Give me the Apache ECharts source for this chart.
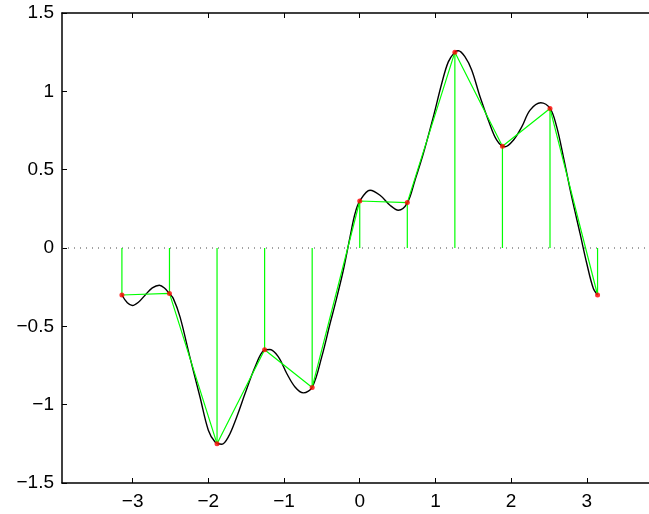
<!DOCTYPE html>
<html>
<head>
<meta charset="utf-8">
<script src="https://cdn.jsdelivr.net/npm/echarts@6/dist/echarts.min.js"></script>
<style>html,body{margin:0;padding:0;background:#fff;}#c{width:649px;height:514px;}</style>
</head>
<body>
<div id="c"></div>
<script>
// Sample points (stems)
const stemX = [-3.1416, -2.5133, -1.8850, -1.2566, -0.6283, 0, 0.6283, 1.2566, 1.8850, 2.5133, 3.1416];
const stemY = [-0.30, -0.29, -1.25, -0.65, -0.89, 0.30, 0.29, 1.25, 0.65, 0.89, -0.30];

// Smooth black curve
const curveX = [-3.1416, -3.07, -3.004, -2.92, -2.836, -2.74, -2.647, -2.58, -2.515, -2.462, -2.374, -2.242,
  -2.11, -2.0, -1.911, -1.823, -1.736, -1.625, -1.515, -1.383, -1.264, -1.185, -1.075, -0.964, -0.855,
  -0.745, -0.626, -0.502, -0.392, -0.326, -0.217, -0.128, -0.062, 0, 0.136, 0.268, 0.4, 0.51, 0.629,
  0.73, 0.84, 0.972, 1.083, 1.17, 1.259, 1.303, 1.391, 1.48, 1.589, 1.699, 1.81, 1.919, 2.029, 2.14,
  2.25, 2.391, 2.514, 2.602, 2.69, 2.8, 2.91, 2.999, 3.086, 3.1416];
const curveY = [-0.30, -0.35, -0.367, -0.345, -0.301, -0.255, -0.238, -0.255, -0.291, -0.323, -0.44, -0.70,
  -0.951, -1.163, -1.238, -1.253, -1.206, -1.078, -0.929, -0.759, -0.653, -0.648, -0.695, -0.801, -0.887,
  -0.925, -0.887, -0.695, -0.482, -0.36, -0.142, 0.071, 0.22, 0.299, 0.369, 0.337, 0.273, 0.241, 0.288,
  0.433, 0.603, 0.837, 1.05, 1.188, 1.252, 1.259, 1.22, 1.135, 0.965, 0.816, 0.688, 0.646, 0.688, 0.773,
  0.88, 0.927, 0.891, 0.773, 0.582, 0.326, 0.093, -0.099, -0.259, -0.30];

const xTicks = [-3, -2, -1, 0, 1, 2, 3];
const xLimit = [-3.933, 3.821];
const yLimit = [-1.5, 1.5];

const font = 'Liberation Sans, Arial, Helvetica, sans-serif';
const fmt = v => String(v).replace('-', '\u2212');

const chart = echarts.init(document.getElementById('c'), null, {renderer: 'canvas'});

const axisCommon = {
  axisLine: {show: true, onZero: false, lineStyle: {color: '#000', width: 1.5}},
  axisTick: {show: true, inside: true, length: 5, lineStyle: {color: '#000', width: 1}},
  splitLine: {show: false}
};

const series = [];
// baseline
series.push({
  type: 'line', symbol: 'none', silent: true,
  data: [[xLimit[0], 0], [xLimit[1], 0]],
  lineStyle: {color: '#444', width: 1, type: [1, 5]}, z: 1
});
// black curve
series.push({
  type: 'line', symbol: 'none', smooth: 0.35,
  data: curveX.map((x, i) => [x, curveY[i]]),
  lineStyle: {color: '#000', width: 1.4}, z: 2
});
// stems
stemX.forEach((x, i) => {
  series.push({
    type: 'line', symbol: 'none',
    data: [[x, 0], [x, stemY[i]]],
    lineStyle: {color: '#00ff00', width: 1.2}, z: 3
  });
});
// green polyline
series.push({
  type: 'line', symbol: 'none',
  data: stemX.map((x, i) => [x, stemY[i]]),
  lineStyle: {color: '#00ff00', width: 1.2}, z: 4
});
// red dots
series.push({
  type: 'scatter', symbol: 'circle', symbolSize: 5,
  data: stemX.map((x, i) => [x, stemY[i]]),
  itemStyle: {color: '#ff0000'}, z: 5
});

chart.setOption({
  animation: false,
  backgroundColor: '#fff',
  grid: {left: 62, top: 13, width: 587, height: 470, show: false},
  xAxis: [
    Object.assign({}, axisCommon, {
      type: 'value', position: 'bottom', min: xLimit[0], max: xLimit[1],
      axisTick: Object.assign({}, axisCommon.axisTick, {customValues: xTicks}),
      axisLabel: {customValues: xTicks, formatter: fmt, color: '#000', fontSize: 19, fontFamily: font, margin: 9}
    }),
    Object.assign({}, axisCommon, {
      type: 'value', position: 'top', min: xLimit[0], max: xLimit[1],
      axisTick: Object.assign({}, axisCommon.axisTick, {customValues: xTicks}),
      axisLabel: {show: false}
    })
  ],
  yAxis: [
    Object.assign({}, axisCommon, {
      type: 'value', position: 'left', min: yLimit[0], max: yLimit[1], interval: 0.5,
      axisLabel: {formatter: fmt, color: '#000', fontSize: 19, fontFamily: font, margin: 8}
    })
  ],
  series: series
});
</script>
</body>
</html>
